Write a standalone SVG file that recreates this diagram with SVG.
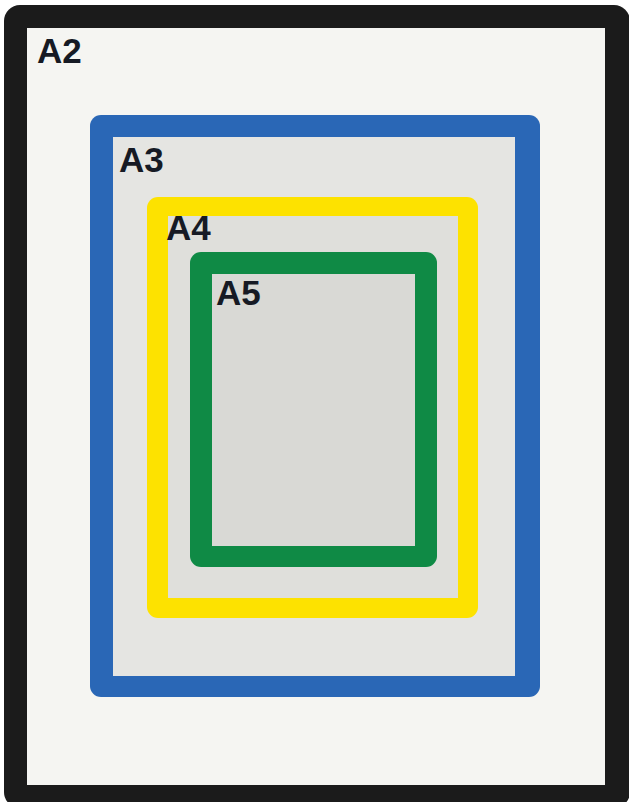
<svg xmlns="http://www.w3.org/2000/svg" width="629" height="802" viewBox="0 0 629 802">
<style>
.lbl{font-family:"Liberation Sans",Arial,sans-serif;font-weight:bold;font-size:35px;fill:#161a24}
</style>
<rect x="0" y="0" width="629" height="802" fill="#ffffff"/>
<g id="A2">
<rect x="4" y="5" width="626" height="803" rx="16" fill="#1b1b1b"/>
<rect x="27" y="28" width="578" height="757" fill="#f5f5f2"/>
<text class="lbl" x="37" y="63">A2</text>
</g>
<g id="A3">
<rect x="90" y="115" width="450" height="582" rx="11" fill="#2a67b6"/>
<rect x="113" y="137" width="402" height="539" fill="#e5e5e2"/>
<text class="lbl" x="119" y="172">A3</text>
</g>
<g id="A4">
<rect x="147" y="197" width="331" height="421" rx="11" fill="#fde200"/>
<rect x="168" y="216" width="290" height="382" fill="#dfdfdb"/>
<text class="lbl" x="166" y="240">A4</text>
</g>
<g id="A5">
<rect x="190" y="252" width="247" height="315" rx="11" fill="#0f8a45"/>
<rect x="212" y="274" width="203" height="272" fill="#d9d9d5"/>
<text class="lbl" x="216" y="305">A5</text>
</g>
</svg>
